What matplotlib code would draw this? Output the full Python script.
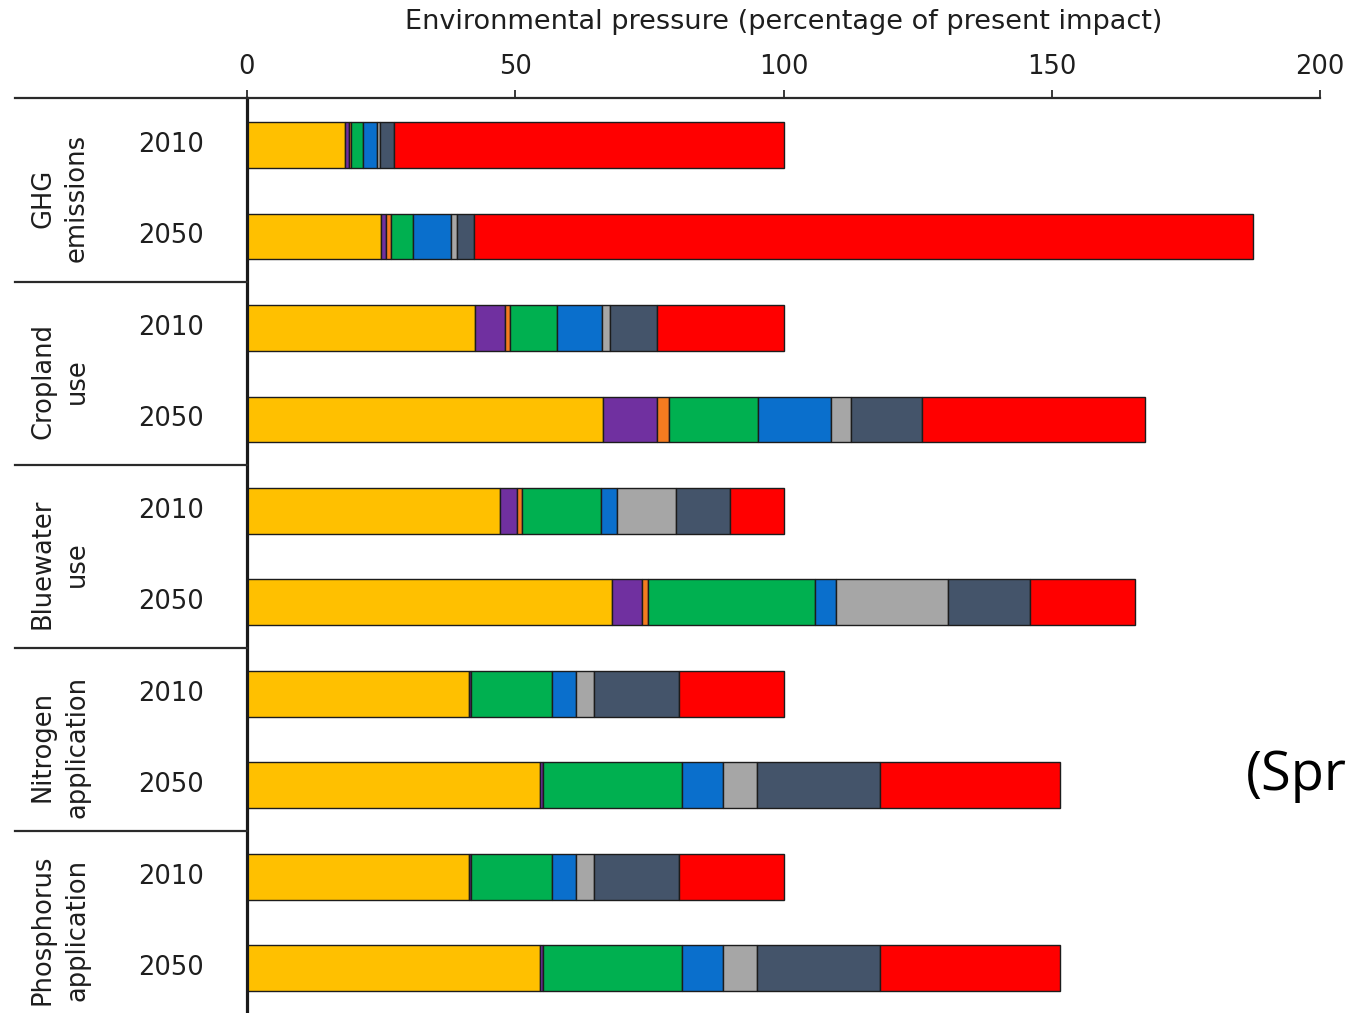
import matplotlib
matplotlib.use("Agg")
import matplotlib.pyplot as plt
import matplotlib.transforms as mtransforms
from matplotlib.lines import Line2D
import numpy as np

plt.rcParams["font.family"] = ["DejaVu Sans"]

# Pressure indicators (groups) and years (bars within each group)
indicators = ["GHG\nemissions", "Cropland\nuse", "Bluewater\nuse",
              "Nitrogen\napplication", "Phosphorus\napplication"]
years = ["2010", "2050"]

# Stacked segment colours, in drawing order from left to right
segment_colors = ["#FFC000", "#7030A0", "#F47B20", "#00B050",
                  "#0A6FCC", "#A6A6A6", "#44546A", "#FF0000"]

# Segment values (percentage of present impact), one list per segment colour,
# ten entries each: indicator-by-year, 2010 then 2050
yellow    = [18.3, 25.0, 42.5, 66.3, 47.2, 68.0, 41.3, 54.6, 41.3, 54.6]
purple    = [0.7, 1.0, 5.6, 10.2, 3.1, 5.7, 0.4, 0.6, 0.4, 0.6]
orange    = [0.4, 0.9, 0.9, 2.2, 0.9, 1.0, 0.0, 0.0, 0.0, 0.0]
green     = [2.2, 4.0, 8.8, 16.6, 14.8, 31.2, 15.2, 25.8, 15.2, 25.8]
blue      = [2.7, 7.1, 8.4, 13.6, 3.0, 3.8, 4.5, 7.8, 4.5, 7.8]
lightgray = [0.5, 1.2, 1.5, 3.7, 10.9, 20.9, 3.3, 6.2, 3.3, 6.2]
darkgray  = [2.6, 3.1, 8.7, 13.3, 10.1, 15.3, 15.8, 23.0, 15.8, 23.0]
red       = [72.6, 145.2, 23.6, 41.5, 10.0, 19.7, 19.5, 33.6, 19.5, 33.6]

series = [yellow, purple, orange, green, blue, lightgray, darkgray, red]
xticks = [0, 50, 100, 150, 200]

W, H, DPI = 1350, 1013, 100
fig = plt.figure(figsize=(W / DPI, H / DPI), dpi=DPI)
fig.patch.set_facecolor("white")

ax_left, ax_right = 247 / W, 1320 / W
ax_top = 1 - 98 / H
ax = fig.add_axes([ax_left, 0.0, ax_right - ax_left, ax_top])

n_bars = len(indicators) * len(years)
ypos = np.arange(n_bars)
left = np.zeros(n_bars)
for vals, col in zip(series, segment_colors):
    vals = np.asarray(vals, dtype=float)
    ax.barh(ypos, vals, left=left, height=0.5, color=col,
            edgecolor="#1c1c1c", linewidth=1.0, zorder=2)
    left += vals

ax.set_xlim(0, 200)
ax.set_ylim(9.49, -0.514)

# Axis on top
ax.xaxis.set_ticks_position("top")
ax.xaxis.set_label_position("top")
ax.set_xticks(xticks)
ax.set_xticklabels([str(t) for t in xticks], fontsize=18.5, color="#1e1e1e")
ax.tick_params(axis="x", direction="out", length=6, width=1.3,
               color="#2a2a2a", pad=7)
ax.set_yticks([])
for side in ("right", "bottom"):
    ax.spines[side].set_visible(False)
ax.spines["top"].set_linewidth(1.6)
ax.spines["top"].set_color("#2a2a2a")
ax.spines["left"].set_linewidth(2.3)
ax.spines["left"].set_color("#1a1a1a")

ax.text(0.5, 1 + 76 / (ax_top * H),
        "Environmental pressure (percentage of present impact)",
        transform=ax.transAxes, ha="center", va="center",
        fontsize=19.5, color="#1e1e1e")

# Row labels in the left margin
blend = mtransforms.blended_transform_factory(fig.transFigure, ax.transData)
for i, y in enumerate(ypos):
    fig.text(204 / W, y, years[i % 2], transform=blend, ha="right",
             va="center", fontsize=18.5, color="#1e1e1e")

for g, name in enumerate(indicators):
    yc = 2 * g + 0.5 + 0.08
    fig.text(60 / W, yc, name, transform=blend, rotation=90, ha="center",
             va="center", fontsize=18.5, color="#1e1e1e", linespacing=1.4,
             multialignment="center")

# Group separators and the extension of the top rule into the margin
for yb in [-0.514, 1.5, 3.5, 5.5, 7.5]:
    fig.add_artist(Line2D([15 / W, ax_left], [yb, yb], transform=blend,
                          color="#2a2a2a", linewidth=1.6, clip_on=False))

fig.text(1246 / W, 1 - 775 / H, "(Spr",
         ha="left", va="center", fontsize=39, family=["Open Sans"],
         color="black")

fig.savefig("out.png", dpi=DPI, facecolor="white")
